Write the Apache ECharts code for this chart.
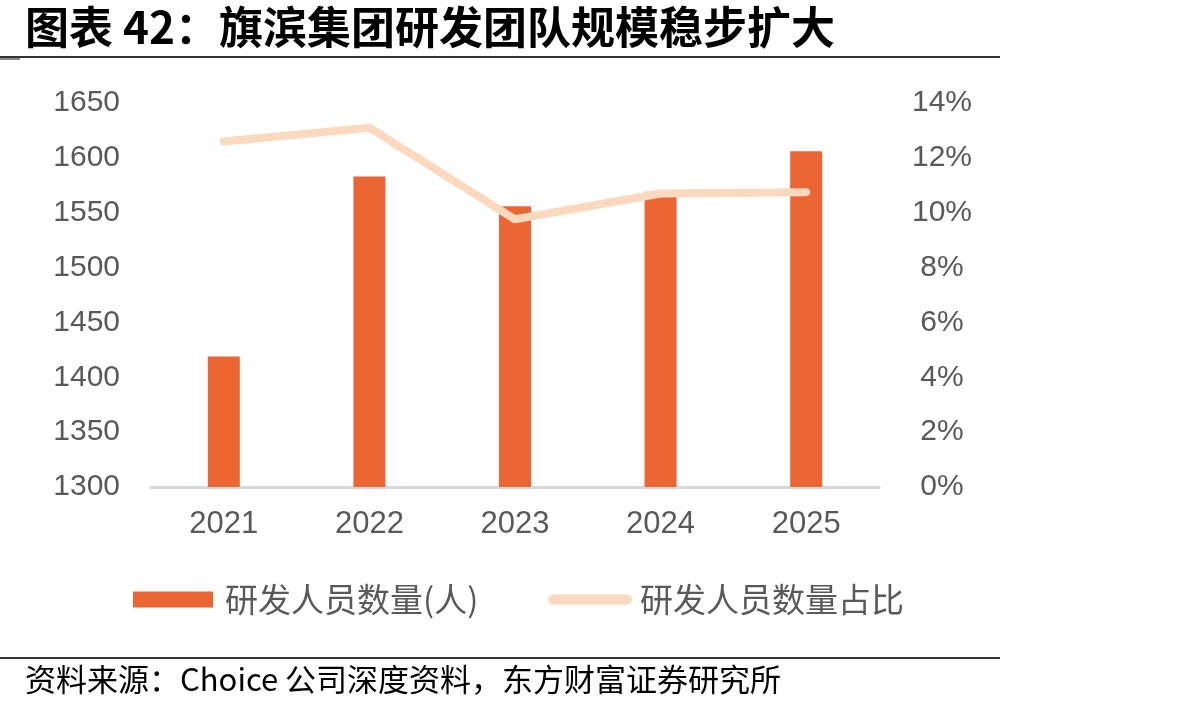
<!DOCTYPE html>
<html>
<head>
<meta charset="utf-8">
<script src="https://cdn.jsdelivr.net/npm/echarts@6/dist/echarts.min.js"></script>
<style>
  html, body { margin: 0; padding: 0; background: #fff; }
  #main { width: 1192px; height: 711px; }
</style>
</head>
<body>
<div id="main"></div>
<script>
// 数据
const years = ['2021', '2022', '2023', '2024', '2025'];
const staffCount = [1419, 1583, 1556, 1569, 1606];      // 研发人员数量(人)
const staffRatio = [0.126, 0.131, 0.0976, 0.107, 0.1075]; // 研发人员数量占比
const leftTicks = [1300, 1650, 50];
const rightTicks = [0, 0.14, 0.02];

const chart = echarts.init(document.getElementById('main'));
const labelFont = 'Liberation Sans, Arial, sans-serif';
const cjkFont = 'Noto Sans CJK SC';
const grey = '#595959';
const lineColor = '#FBD9BE';

chart.setOption({
  backgroundColor: '#fff',
  animation: false,
  grid: { left: 151, right: 313, top: 103, bottom: 224 },
  graphic: [
    {
      type: 'text', left: 25, top: 5,
      style: { text: '图表 42：旗滨集团研发团队规模稳步扩大', font: 'bold 44px "Noto Sans CJK SC"', fill: '#000' }
    },
    { type: 'rect', shape: { x: 0, y: 56, width: 1000, height: 2 }, style: { fill: '#333' } },
    { type: 'rect', shape: { x: 0, y: 58, width: 20, height: 2 }, style: { fill: '#888' } },
    { type: 'rect', shape: { x: 0, y: 657, width: 1000, height: 2 }, style: { fill: '#333' } },
    {
      type: 'text', left: 25, top: 664,
      style: { text: '资料来源：Choice 公司深度资料，东方财富证券研究所', font: '31px "Noto Sans CJK SC"', fill: '#000' }
    }
  ],
  legend: [
    {
      data: ['研发人员数量(人)'], left: 128, top: 578,
      icon: 'rect', itemWidth: 80, itemHeight: 16,
      textStyle: { fontFamily: cjkFont, fontSize: 33, color: grey, padding: [0, 0, 0, 7] }
    },
    {
      data: [{
        name: '研发人员数量占比',
        icon: 'path://M5,0 L79,0 A5,5 0 0 1 79,10 L5,10 A5,5 0 0 1 5,0 Z',
        itemStyle: { color: lineColor }
      }],
      left: 543, top: 578,
      itemWidth: 84, itemHeight: 10,
      textStyle: { fontFamily: cjkFont, fontSize: 33, color: grey, padding: [0, 0, 0, 3] }
    }
  ],
  xAxis: {
    type: 'category',
    data: years,
    axisLine: { lineStyle: { color: '#d9d9d9', width: 3 } },
    axisTick: { show: false },
    axisLabel: { fontFamily: labelFont, fontSize: 31, color: grey, margin: 22 }
  },
  yAxis: [
    {
      type: 'value', min: leftTicks[0], max: leftTicks[1], interval: leftTicks[2],
      splitLine: { show: false },
      axisLabel: { fontFamily: labelFont, fontSize: 30, color: grey, margin: 31, formatter: v => String(v) }
    },
    {
      type: 'value', min: rightTicks[0], max: rightTicks[1], interval: rightTicks[2],
      splitLine: { show: false },
      axisLabel: {
        fontFamily: labelFont, fontSize: 30, color: grey, margin: 63, align: 'center',
        formatter: v => Math.round(v * 100) + '%'
      }
    }
  ],
  series: [
    {
      name: '研发人员数量(人)',
      type: 'bar',
      data: staffCount,
      barWidth: 32,
      itemStyle: { color: '#EC6634' }
    },
    {
      name: '研发人员数量占比',
      type: 'line',
      yAxisIndex: 1,
      data: staffRatio,
      symbol: 'none',
      lineStyle: { color: lineColor, width: 8, cap: 'round', join: 'round' },
      itemStyle: { color: lineColor }
    }
  ]
});
</script>
</body>
</html>
